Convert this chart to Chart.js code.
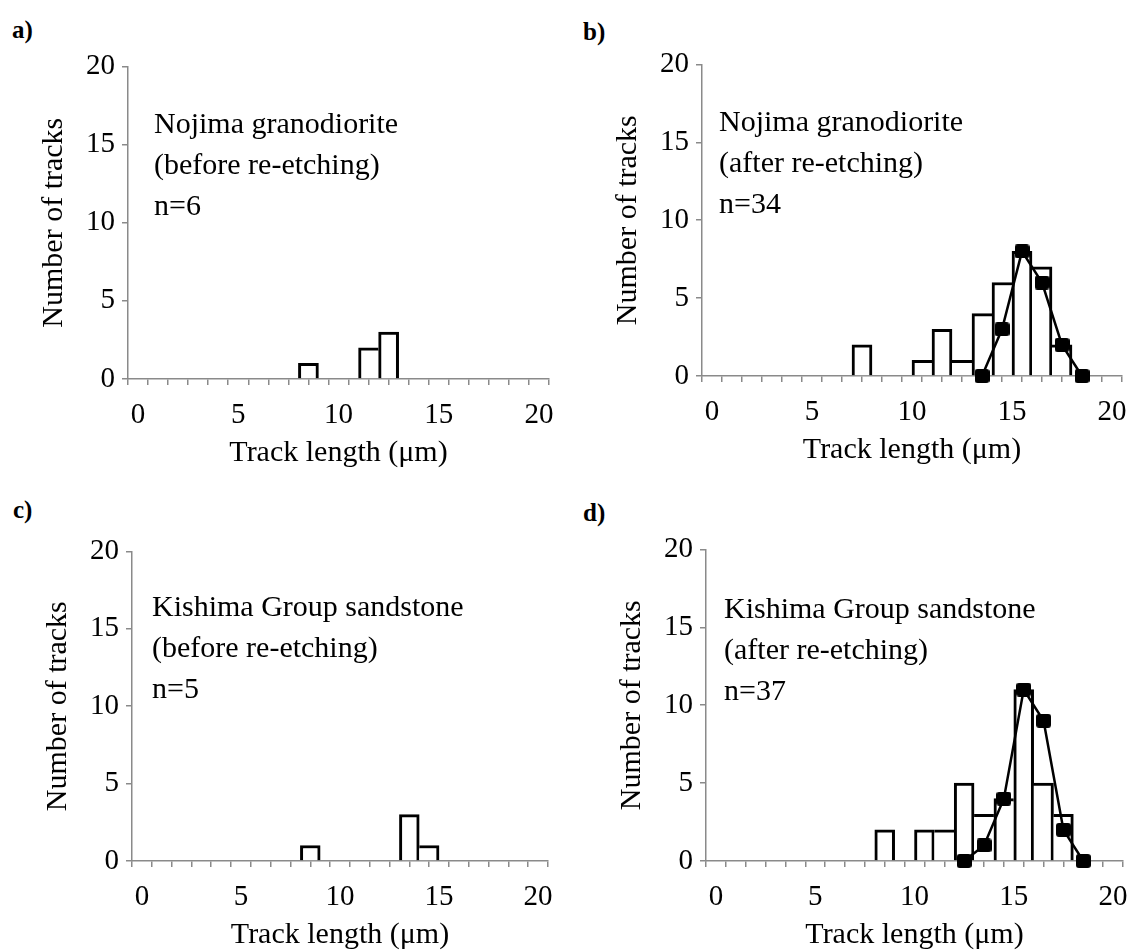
<!DOCTYPE html>
<html>
<head>
<meta charset="utf-8">
<script src="https://cdn.jsdelivr.net/npm/chart.js@4.4.1/dist/chart.umd.min.js"></script>
<style>
  body { margin: 0; background: #fff; }
  #page { position: relative; width: 1142px; height: 950px; background: #fff; overflow: hidden; }
  canvas.panel { position: absolute; }
  .tag { position: absolute; font: bold 25px "Liberation Serif", "Times New Roman", "DejaVu Serif", serif; line-height: 30px; color: #000; }
  .note { position: absolute; font: 30px "Liberation Serif", "Times New Roman", "DejaVu Serif", serif; line-height: 41px; color: #000; white-space: nowrap; }
</style>
</head>
<body>
<div id="page">
  <div class="tag" style="left:12px; top:15px;">a)</div>
  <div class="tag" style="left:583px; top:17px;">b)</div>
  <div class="tag" style="left:13px; top:495px;">c)</div>
  <div class="tag" style="left:583px; top:498px;">d)</div>

  <canvas id="chart-a" class="panel"></canvas>
  <canvas id="chart-b" class="panel"></canvas>
  <canvas id="chart-c" class="panel"></canvas>
  <canvas id="chart-d" class="panel"></canvas>

  <div class="note" style="left:154px; top:102px;">Nojima granodiorite<br>(before re-etching)<br>n=6</div>
  <div class="note" style="left:719px; top:100px;">Nojima granodiorite<br>(after re-etching)<br>n=34</div>
  <div class="note" style="left:152px; top:585px;">Kishima Group sandstone<br>(before re-etching)<br>n=5</div>
  <div class="note" style="left:724px; top:587px;">Kishima Group sandstone<br>(after re-etching)<br>n=37</div>
</div>

<script>
// ====== DATA ======
// histogram bins are given by their left edge (1 µm wide)
const xTickLabels = [0, 5, 10, 15, 20];
const yTickLabels = [0, 5, 10, 15, 20];

const aBins = [8, 11, 12];
const aCounts = [1, 2, 3];

const bBins = [7, 10, 11, 12, 13, 14, 15, 16, 17];
const bCounts = [2, 1, 3, 1, 4, 6, 8, 7, 2];
const bFitX = [13.5, 14.5, 15.5, 16.5, 17.5, 18.5];
const bFitY = [0, 3, 8, 6, 2, 0];

const cBins = [8, 13, 14];
const cCounts = [1, 3, 1];

const dBins = [8, 10, 11, 12, 13, 14, 15, 16, 17];
const dCounts = [2, 2, 2, 5, 3, 4, 11, 5, 3];
const dFitX = [12.5, 13.5, 14.5, 15.5, 16.5, 17.5, 18.5];
const dFitY = [0, 1, 4, 11, 9, 2, 0];


// ====== LAYOUT ======
const Y_SCALE_W = 120;   // room left of the y axis
const X_SCALE_H = 100;   // room below the x axis
const PAD_TOP = 22;
const PAD_RIGHT = 24;
const FONT = '"Liberation Serif", "Times New Roman", "DejaVu Serif", serif';
const AXIS_GRAY = '#8a8a8a';

// plot area of each panel in page pixels
const panels = [
  { id: 'chart-a', left: 128, top: 64, right: 549, bottom: 379, bins: aBins, counts: aCounts },
  { id: 'chart-b', left: 702, top: 62, right: 1122, bottom: 376, bins: bBins, counts: bCounts, fitX: bFitX, fitY: bFitY },
  { id: 'chart-c', left: 132, top: 549, right: 548, bottom: 861, bins: cBins, counts: cCounts },
  { id: 'chart-d', left: 706, top: 547, right: 1123, bottom: 861, bins: dBins, counts: dCounts, fitX: dFitX, fitY: dFitY }
];


// square marker used for the fitted curve
function makeMarker() {
  const c = document.createElement('canvas');
  c.width = 15;
  c.height = 14;
  const g = c.getContext('2d');
  g.fillStyle = '#000';
  g.beginPath();
  g.roundRect(0, 0, 15, 14, 3);
  g.fill();
  return c;
}
const marker = makeMarker();


// each shared bin edge is drawn once, by the taller bar
function barBorder(ctx) {
  const pts = ctx.dataset.data;
  const p = pts[ctx.dataIndex];
  if (!p) return 0;
  const prev = pts.find(q => q.x === p.x - 1);
  const next = pts.find(q => q.x === p.x + 1);
  const bw = 3;
  return {
    top: bw,
    bottom: 0,
    left: prev && prev.y >= p.y ? 0 : bw,
    right: next && next.y > p.y ? 0 : bw
  };
}


function drawPanel(panel) {
  const canvas = document.getElementById(panel.id);
  const w = Y_SCALE_W + (panel.right - panel.left) + PAD_RIGHT;
  const h = PAD_TOP + (panel.bottom - panel.top) + X_SCALE_H;
  canvas.width = w;
  canvas.height = h;
  canvas.style.left = (panel.left - Y_SCALE_W) + 'px';
  canvas.style.top = (panel.top - PAD_TOP) + 'px';
  canvas.style.width = w + 'px';
  canvas.style.height = h + 'px';

  const datasets = [];

  if (panel.fitX) {
    datasets.push({
      type: 'line',
      data: panel.fitX.map((x, i) => ({ x: x, y: panel.fitY[i] })),
      borderColor: '#000',
      borderWidth: 2.5,
      pointStyle: marker,
      pointRadius: 7,
      tension: 0,
      clip: false,
      order: 0
    });
  }

  datasets.push({
    type: 'bar',
    data: panel.bins.map((b, i) => ({ x: b + 0.5, y: panel.counts[i] })),
    backgroundColor: '#fff',
    borderColor: '#000',
    borderWidth: barBorder,
    borderSkipped: 'start',
    barPercentage: 1,
    categoryPercentage: 1,
    clip: false,
    order: 1
  });

  new Chart(canvas, {
    data: { datasets },
    options: {
      responsive: false,
      animation: false,
      devicePixelRatio: 1,
      layout: { padding: { top: PAD_TOP, right: PAD_RIGHT, left: 0, bottom: 0 } },
      plugins: { legend: { display: false }, tooltip: { enabled: false } },
      events: [],
      scales: {
        x: {
          type: 'linear',
          min: 0,
          max: 20,
          afterFit: s => { s.height = X_SCALE_H; },
          border: { color: AXIS_GRAY, width: 1.5 },
          grid: { drawOnChartArea: false, drawTicks: true, tickLength: 6, color: AXIS_GRAY, lineWidth: 1.5 },
          ticks: {
            stepSize: 1,
            autoSkip: false,
            maxRotation: 0,
            padding: 13,
            color: '#000',
            font: { family: FONT, size: 29 },
            callback: v => (xTickLabels.includes(v) ? String(v) : '')
          },
          title: {
            display: true,
            text: 'Track length (μm)',
            color: '#000',
            font: { family: FONT, size: 30 },
            padding: { top: 0, bottom: 8 }
          }
        },
        y: {
          type: 'linear',
          min: 0,
          max: 20,
          afterFit: s => { s.width = Y_SCALE_W; },
          border: { color: AXIS_GRAY, width: 1.5 },
          grid: { drawOnChartArea: false, drawTicks: true, tickLength: 6, color: AXIS_GRAY, lineWidth: 1.5 },
          ticks: {
            stepSize: 5,
            padding: 7,
            color: '#000',
            font: { family: FONT, size: 29 },
            callback: v => (yTickLabels.includes(v) ? String(v) : '')
          },
          title: {
            display: true,
            text: 'Number of tracks',
            color: '#000',
            font: { family: FONT, size: 30 },
            padding: { top: 28, bottom: 0 }
          }
        }
      }
    }
  });
}


// ====== INITIALIZATION ======
panels.forEach(drawPanel);
</script>
</body>
</html>
